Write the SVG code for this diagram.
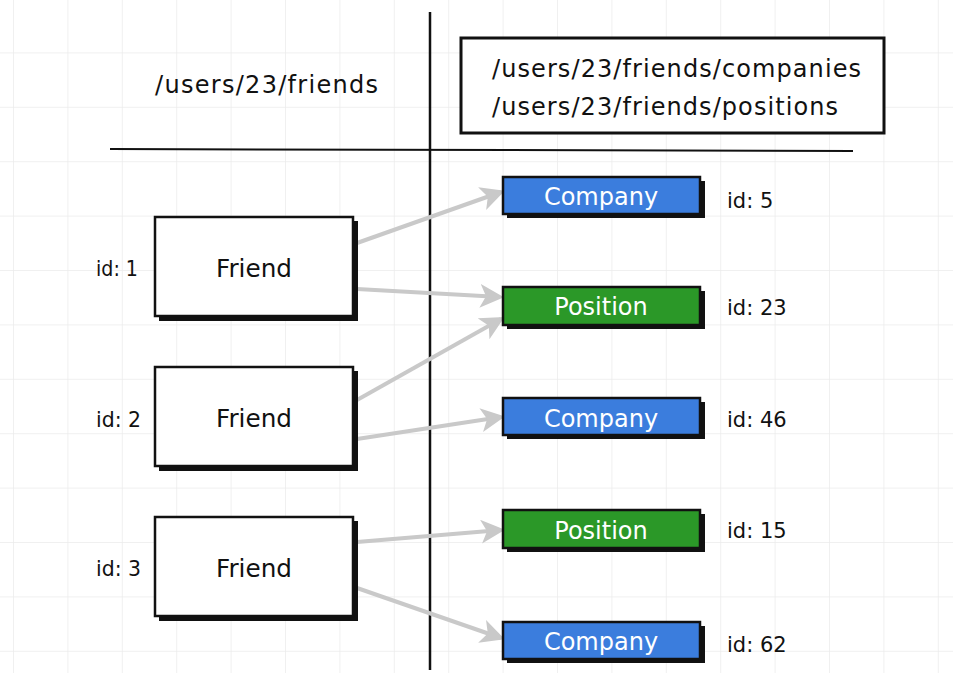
<svg xmlns="http://www.w3.org/2000/svg" width="953" height="673" viewBox="0 0 953 673">
<style>
.t{font-family:"DejaVu Sans","Liberation Sans",Arial,sans-serif;fill:#111}
.path{font-size:24px}
.fr{font-size:25px;text-anchor:middle}
.idl{font-size:21px}
.id{font-size:21px}
.lbl{font-size:24px;fill:#fff;text-anchor:middle;font-family:"DejaVu Sans","Liberation Sans",Arial,sans-serif}
.box{fill:#fff;stroke:#111;stroke-width:2.5}
.sh{fill:#111}
.blue{fill:#3b7ddd;stroke:#111;stroke-width:2.5}
.green{fill:#2b9828;stroke:#111;stroke-width:2.5}
.conn{stroke:#c9c9c9;stroke-width:4;fill:none;marker-end:url(#ah)}
</style>
<defs>
<pattern id="grid" x="13" y="-2" width="54.4" height="54.4" patternUnits="userSpaceOnUse">
<path d="M0,0 V54.4 M0,0 H54.4" stroke="#ebebeb" stroke-width="1.5" fill="none"/>
</pattern>
<marker id="ah" viewBox="0 0 12 12" refX="10" refY="6" markerWidth="6" markerHeight="6" markerUnits="strokeWidth" orient="auto">
<path d="M0,0 L12,6 L0,12 L3,6 z" fill="#c9c9c9"/>
</marker>
</defs>
<rect width="953" height="673" fill="#fff"/>
<rect width="953" height="673" fill="url(#grid)"/>

<g id="dividers">
<line x1="430" y1="12" x2="430" y2="670" stroke="#111" stroke-width="2.5"/>
<line x1="110" y1="149" x2="853" y2="151" stroke="#111" stroke-width="2"/>
</g>

<g id="header-left">
<text class="t path" x="155" y="93" textLength="223" lengthAdjust="spacing">/users/23/friends</text>
</g>

<g id="header-right">
<rect class="box" x="461" y="38" width="423" height="95" style="stroke-width:3"/>
<text class="t path" x="492" y="77" textLength="369" lengthAdjust="spacing">/users/23/friends/companies</text>
<text class="t path" x="492" y="115" textLength="346" lengthAdjust="spacing">/users/23/friends/positions</text>
</g>

<g id="connectors">
<line class="conn" x1="357" y1="243" x2="501" y2="192"/>
<line class="conn" x1="357" y1="289" x2="500" y2="297"/>
<line class="conn" x1="357" y1="400" x2="501" y2="319"/>
<line class="conn" x1="357" y1="439" x2="501" y2="417"/>
<line class="conn" x1="357" y1="542" x2="501" y2="530"/>
<line class="conn" x1="357" y1="588" x2="501" y2="638"/>
</g>

<g id="friend1">
<rect class="sh" x="159" y="221" width="199" height="100"/>
<rect class="box" x="155" y="217" width="198" height="99"/>
<text class="t fr" x="254" y="277" textLength="76" lengthAdjust="spacingAndGlyphs">Friend</text>
<text class="t idl" x="96" y="276" textLength="42" lengthAdjust="spacingAndGlyphs">id: 1</text>
</g>
<g id="friend2">
<rect class="sh" x="159" y="371" width="199" height="100"/>
<rect class="box" x="155" y="367" width="198" height="99"/>
<text class="t fr" x="254" y="427" textLength="76" lengthAdjust="spacingAndGlyphs">Friend</text>
<text class="t idl" x="96" y="427" textLength="45" lengthAdjust="spacingAndGlyphs">id: 2</text>
</g>
<g id="friend3">
<rect class="sh" x="159" y="521" width="199" height="100"/>
<rect class="box" x="155" y="517" width="198" height="99"/>
<text class="t fr" x="254" y="577" textLength="76" lengthAdjust="spacingAndGlyphs">Friend</text>
<text class="t idl" x="96" y="576" textLength="45" lengthAdjust="spacingAndGlyphs">id: 3</text>
</g>

<g id="company5">
<rect class="sh" x="507" y="181" width="198" height="37"/>
<rect class="blue" x="503" y="177" width="197" height="37"/>
<text class="lbl" x="601" y="205">Company</text>
<text class="t id" x="727" y="208">id: 5</text>
</g>
<g id="position23">
<rect class="sh" x="507" y="291" width="198" height="38"/>
<rect class="green" x="503" y="287" width="197" height="38"/>
<text class="lbl" x="601" y="315">Position</text>
<text class="t id" x="727" y="315">id: 23</text>
</g>
<g id="company46">
<rect class="sh" x="507" y="402" width="198" height="37"/>
<rect class="blue" x="503" y="398" width="197" height="37"/>
<text class="lbl" x="601" y="427">Company</text>
<text class="t id" x="727" y="427">id: 46</text>
</g>
<g id="position15">
<rect class="sh" x="507" y="514" width="198" height="38"/>
<rect class="green" x="503" y="510" width="197" height="38"/>
<text class="lbl" x="601" y="539">Position</text>
<text class="t id" x="727" y="538">id: 15</text>
</g>
<g id="company62">
<rect class="sh" x="507" y="626" width="198" height="37"/>
<rect class="blue" x="503" y="622" width="197" height="37"/>
<text class="lbl" x="601" y="650">Company</text>
<text class="t id" x="727" y="652">id: 62</text>
</g>
</svg>
